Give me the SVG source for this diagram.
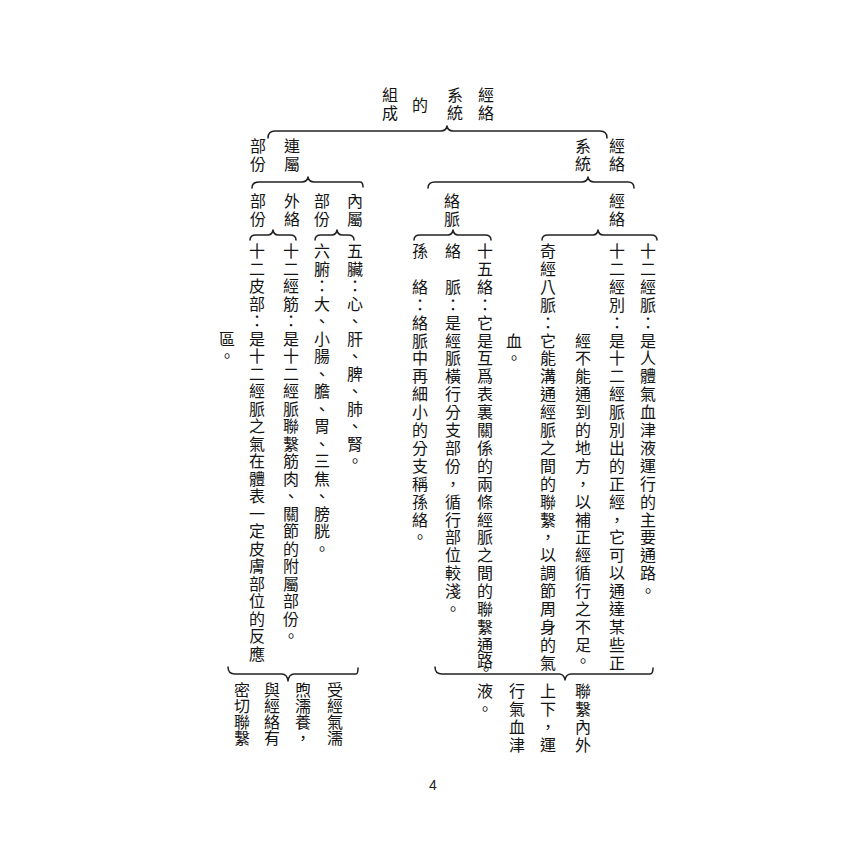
<svg xmlns="http://www.w3.org/2000/svg" width="850" height="850" viewBox="0 0 850 850">
<style>
.t{font-family:"Noto Sans CJK TC","Noto Sans CJK SC",sans-serif;font-size:16px;fill:#141414;text-anchor:middle;dominant-baseline:central}
.b{fill:none;stroke:#222222;stroke-width:1.5;stroke-linecap:round;stroke-linejoin:round}
.pn{font-family:"Liberation Sans",Arial,sans-serif;font-size:14px;fill:#222;text-anchor:middle}
</style>
<rect width="850" height="850" fill="#ffffff"/>

<g id="connectors">
<path class="b" d="M268,138 Q268,131 275,131 L441,131 Q446,131 447,126 Q448,131 453,131 L600,131 Q607,131 607,138"/>
<path class="b" d="M252,188 Q252,182 259,182 L302,182 Q307,182 308,177 Q309,182 314,182 L360,182 Q363,182 363,187"/>
<path class="b" d="M428,188 Q428,182 435,182 L582,182 Q587,182 588,177 Q589,182 594,182 L628,182 Q634,182 634,188"/>
<path class="b" d="M250,240 Q250,235 256,235 L268,235 Q272,235 273,230 Q274,235 278,235 L290,235 Q296,235 296,240"/>
<path class="b" d="M315,240 Q315,235 321,235 L332,235 Q336,235 337,230 Q338,235 342,235 L348,235 Q354,235 354,240"/>
<path class="b" d="M414,240 Q414,235 420,235 L448,235 Q452,235 453,230 Q454,235 458,235 L485,235 Q491,235 491,240"/>
<path class="b" d="M542,240 Q542,235 548,235 L593,235 Q597,235 598,230 Q599,235 603,235 L651,235 Q657,235 657,240"/>
<path class="b" d="M228,667 Q228,674 235,674 L282,674 Q287,674 288,681 Q289,674 294,674 L356,674 Q358,674 358,668"/>
<path class="b" d="M435,667 Q435,674 442,674 L559,674 Q564,674 565,680 Q566,674 571,674 L650,674 Q653,674 653,668"/>
</g>

<g id="title">
<text class="t" x="486 486 455 455 420 390 390" y="94 112 94 112 104 94 112">經絡系統的組成</text>
</g>

<g id="node-jingluo-xitong">
<text class="t" x="617 617 583 583" y="145 163 145 163">經絡系統</text>
</g>
<g id="node-lianshu">
<text class="t" x="292 292 258 258" y="145 163 145 163">連屬部份</text>
</g>

<g id="node-jingluo">
<text class="t" x="617 617" y="200 218">經絡</text>
</g>
<g id="node-luomai">
<text class="t" x="452 452" y="200 218">絡脈</text>
</g>
<g id="node-neishu">
<text class="t" x="355 355 322 322" y="200 218 200 218">內屬部份</text>
</g>
<g id="node-wailuo">
<text class="t" x="292 292 258 258" y="200 218 200 218">外絡部份</text>
</g>

<g id="node-shier-jingmai">
<text class="t" x="648 648 648 648 648 648 648 648 648 648 648 648 648 648 648 648 648 648 648 648" y="250 268 286 304 322 340 357 375 393 411 429 447 465 483 501 519 536 554 572 590">十二經脈：是人體氣血津液運行的主要通路。</text>
</g>

<g id="node-shier-jingbie">
<text class="t" x="617 617 617 617 617 617 617 617 617 617 617 617 617 617 617 617 617 617 617 617 617 617 617 617" y="250 268 286 304 322 340 357 375 393 411 429 447 465 483 501 519 536 554 572 590 608 626 644 662">十二經別：是十二經脈別出的正經，它可以通達某些正</text>
<text class="t" x="583 583 583 583 583 583 583 583 583 583 583 583 583 583 583 583 583 583 583" y="340 357 375 393 411 429 447 465 483 501 519 536 554 572 590 608 626 644 660">經不能通到的地方，以補正經循行之不足。</text>
</g>

<g id="node-qijing-bamai">
<text class="t" x="548 548 548 548 548 548 548 548 548 548 548 548 548 548 548 548 548 548 548 548 548 548 548 548" y="250 268 286 304 322 340 357 375 393 411 429 447 465 483 501 519 536 554 572 590 608 626 644 662">奇經八脈：它能溝通經脈之間的聯繫，以調節周身的氣</text>
<text class="t" x="514 514" y="340 357">血。</text>
</g>

<g id="node-shiwu-luo">
<text class="t" x="485 485 485 485 485 485 485 485 485 485 485 485 485 485 485 485 485 485 485 485 485 485 485 485 486" y="250 268 286 304 322 340 357 375 393 411 429 447 465 483 501 519 536 554 572 590 608 626 644 660 668">十五絡：它是互爲表裏關係的兩條經脈之間的聯繫通路。</text>
</g>

<g id="node-luomai-desc">
<text class="t" x="453 453 453 453 453 453 453 453 453 453 453 453 453 453 453 453 453 453 453 453" y="250 286 304 322 340 357 375 393 411 429 447 465 483 501 519 536 554 572 590 608">絡脈：是經脈橫行分支部份，循行部位較淺。</text>
</g>

<g id="node-sunluo">
<text class="t" x="420 420 420 420 420 420 420 420 420 420 420 420 420 420 420 420" y="250 286 304 322 340 357 375 393 411 429 447 465 483 501 519 536">孫絡：絡脈中再細小的分支稱孫絡。</text>
</g>

<g id="node-wuzang">
<text class="t" x="355 355 355 355 355 355 355 355 355 355 355 355 355" y="250 267.5 285 302.5 320 337.5 355 372.5 390 407.5 425 442.5 460">五臟：心、肝、脾、肺、腎。</text>
</g>

<g id="node-liufu">
<text class="t" x="322 322 322 322 322 322 322 322 322 322 322 322 322 322 322 322 322 322" y="250 267.5 285 302.5 320 337.5 355 372.5 390 407.5 425 442.5 460 477.5 495 512.5 530 547.5">六腑：大、小腸、膽、胃、三焦、膀胱。</text>
</g>

<g id="node-shier-jingjin">
<text class="t" x="291 291 291 291 291 291 291 291 291 291 291 291 291 291 291 291 291 291 291 291 291 291 291" y="250 267.5 285 302.5 320 337.5 355 372.5 390 407.5 425 442.5 460 477.5 495 512.5 530 547.5 565 582.5 600 617.5 635">十二經筋：是十二經脈聯繫筋肉、關節的附屬部份。</text>
</g>

<g id="node-shier-pibu">
<text class="t" x="257 257 257 257 257 257 257 257 257 257 257 257 257 257 257 257 257 257 257 257 257 257 257 257" y="250 267.5 285 302.5 320 337.5 355 372.5 390 407.5 425 442.5 460 477.5 495 512.5 530 547.5 565 582.5 600 617.5 635 652.5">十二皮部：是十二經脈之氣在體表一定皮膚部位的反應</text>
<text class="t" x="227 227" y="337.5 355">區。</text>
</g>

<g id="node-lianshu-note">
<text class="t" x="335 335 335 335 303 303 303 303 272 272 272 272 242 242 242 242" y="689 705 721 737 689 705 721 737 689 705 721 737 689 705 721 737">受經氣濡煦濡養，與經絡有密切聯繫</text>
</g>

<g id="node-jingluo-note">
<text class="t" x="583 583 583 583 548 548 548 548 517 517 517 517 485 485" y="690 708 726 744 690 708 726 744 690 708 726 744 690 708">聯繫內外上下，運行氣血津液。</text>
</g>

<text class="pn" x="433" y="790">4</text>
</svg>
